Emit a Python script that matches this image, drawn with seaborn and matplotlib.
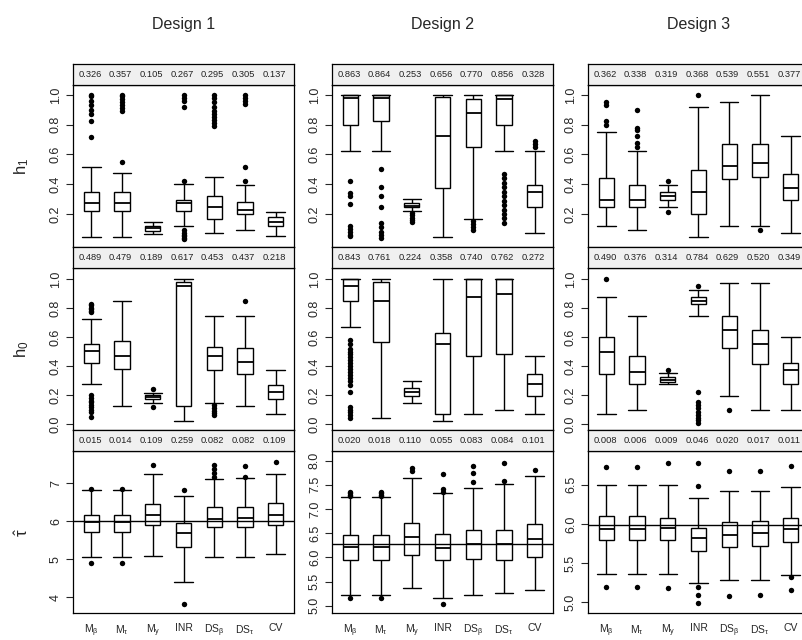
import numpy as np
import pandas as pd
import matplotlib
matplotlib.use('Agg')
import matplotlib.pyplot as plt
import seaborn as sns

# ===================== data =====================
methods = ['Mb', 'Mt', 'My', 'INR', 'DSb', 'DSt', 'CV']
method_labels = ['M$_\\beta$', 'M$_\\tau$', 'M$_y$', 'INR', 'DS$_\\beta$', 'DS$_\\tau$', 'CV']
designs = ['Design 1', 'Design 2', 'Design 3']
row_labels = ['h$_1$', 'h$_0$', '$\\hat{\\tau}$']

# five-number summaries per method: [lower whisker, Q1, median, Q3, upper whisker]
h1_d1_box = [[0.043, 0.22, 0.272, 0.346, 0.518], [0.043, 0.22, 0.272, 0.346, 0.473],
             [0.066, 0.088, 0.104, 0.12, 0.144], [0.12, 0.22, 0.272, 0.294, 0.40],
             [0.07, 0.169, 0.249, 0.321, 0.446], [0.092, 0.198, 0.227, 0.281, 0.395],
             [0.05, 0.12, 0.145, 0.18, 0.21]]
h1_d1_out = [[0.72, 0.825, 0.87, 0.90, 0.93, 0.96, 0.99, 1.0],
             [0.547, 0.89, 0.91, 0.93, 0.95, 0.97, 0.99, 1.0],
             [],
             [0.424, 0.03, 0.04, 0.05, 0.06, 0.075, 0.09, 0.92, 0.96, 0.98, 1.0],
             [0.79, 0.81, 0.83, 0.85, 0.87, 0.89, 0.92, 0.95, 0.98, 1.0],
             [0.424, 0.518, 0.94, 0.96, 0.98, 1.0],
             []]
h1_d2_box = [[0.624, 0.80, 0.978, 1.0, 1.0], [0.624, 0.825, 0.978, 1.0, 1.0],
             [0.22, 0.245, 0.256, 0.272, 0.30], [0.043, 0.373, 0.725, 0.985, 1.0],
             [0.167, 0.648, 0.877, 0.973, 1.0], [0.624, 0.80, 0.973, 1.0, 1.0],
             [0.07, 0.245, 0.346, 0.395, 0.624]]
h1_d2_out = [[0.42, 0.34, 0.32, 0.27, 0.12, 0.10, 0.08, 0.06, 0.05],
             [0.50, 0.38, 0.32, 0.25, 0.14, 0.11, 0.08, 0.06, 0.04],
             [0.205, 0.19, 0.175, 0.16, 0.145],
             [],
             [0.15, 0.13, 0.11, 0.09],
             [0.47, 0.44, 0.41, 0.38, 0.35, 0.32, 0.29, 0.26, 0.23, 0.20, 0.17, 0.14],
             [0.69, 0.67, 0.65]]
h1_d3_box = [[0.12, 0.245, 0.294, 0.444, 0.75], [0.093, 0.245, 0.294, 0.395, 0.624],
             [0.245, 0.294, 0.324, 0.346, 0.395], [0.043, 0.198, 0.346, 0.496, 0.922],
             [0.12, 0.433, 0.523, 0.671, 0.95], [0.12, 0.447, 0.545, 0.671, 1.0],
             [0.07, 0.294, 0.373, 0.47, 0.722]]
h1_d3_out = [[0.955, 0.93, 0.825, 0.80], [0.90, 0.776, 0.765, 0.725, 0.675, 0.652],
             [0.422, 0.216], [1.0], [], [0.093], []]

h0_d1_box = [[0.273, 0.423, 0.503, 0.549, 0.722], [0.124, 0.377, 0.471, 0.575, 0.85],
             [0.147, 0.17, 0.184, 0.20, 0.216], [0.02, 0.124, 0.954, 0.977, 1.0],
             [0.147, 0.372, 0.471, 0.533, 0.747], [0.124, 0.344, 0.425, 0.526, 0.747],
             [0.068, 0.17, 0.223, 0.27, 0.372]]
h0_d1_out = [[0.83, 0.82, 0.80, 0.79, 0.78, 0.77, 0.20, 0.18, 0.16, 0.15, 0.13, 0.12, 0.10, 0.085, 0.05],
             [], [0.245, 0.12], [], [0.13, 0.11, 0.09, 0.075, 0.06], [0.85], []]
h0_d2_box = [[0.67, 0.85, 0.954, 1.0, 1.0], [0.045, 0.563, 0.85, 0.977, 1.0],
             [0.147, 0.195, 0.223, 0.25, 0.296], [0.02, 0.068, 0.549, 0.625, 1.0],
             [0.068, 0.471, 0.873, 1.0, 1.0], [0.096, 0.483, 0.90, 1.0, 1.0],
             [0.068, 0.195, 0.273, 0.347, 0.471]]
h0_d2_out = [[0.58, 0.55, 0.52, 0.50, 0.48, 0.46, 0.44, 0.42, 0.40, 0.38, 0.36, 0.34,
              0.32, 0.30, 0.27, 0.22, 0.12, 0.10, 0.08, 0.06, 0.04],
             [], [], [], [], [], []]
h0_d3_box = [[0.068, 0.347, 0.499, 0.598, 0.873], [0.096, 0.273, 0.36, 0.471, 0.747],
             [0.273, 0.292, 0.303, 0.322, 0.349], [0.747, 0.827, 0.85, 0.873, 0.924],
             [0.195, 0.522, 0.648, 0.747, 0.975], [0.096, 0.411, 0.549, 0.648, 0.975],
             [0.096, 0.273, 0.372, 0.423, 0.598]]
h0_d3_out = [[1.0], [], [0.372], [0.952, 0.22, 0.15, 0.13, 0.11, 0.08, 0.06, 0.04, 0.03, 0.01],
             [0.096], [], []]

tau_d1_box = [[5.07, 5.722, 5.983, 6.157, 6.81], [5.07, 5.722, 5.983, 6.157, 6.81],
              [5.087, 5.896, 6.157, 6.452, 7.243], [4.41, 5.32, 5.678, 5.957, 6.67],
              [5.07, 5.843, 6.06, 6.365, 7.104], [5.07, 5.85, 6.07, 6.365, 7.12],
              [5.15, 5.91, 6.17, 6.48, 7.24]]
tau_d1_out = [[6.84, 4.91], [6.84, 4.91], [7.478], [6.81, 3.826],
              [7.478, 7.365, 7.26, 7.17], [7.45, 7.17], [7.55]]
tau_d2_box = [[5.22, 5.945, 6.22, 6.459, 7.24], [5.22, 5.945, 6.22, 6.459, 7.24],
              [5.36, 6.05, 6.425, 6.71, 7.65], [5.16, 5.945, 6.2, 6.486, 7.33],
              [5.23, 5.97, 6.27, 6.575, 7.445], [5.26, 5.945, 6.27, 6.575, 7.52],
              [5.32, 6.01, 6.38, 6.70, 7.68]]
tau_d2_out = [[7.36, 7.33, 7.30, 7.27, 5.15], [7.36, 7.33, 7.30, 7.27, 5.15], [7.84, 7.79],
              [7.72, 7.41, 7.36, 5.03], [7.88, 7.74, 7.55], [7.96, 7.57], [7.81]]
tau_d3_box = [[5.367, 5.79, 5.94, 6.10, 6.5], [5.367, 5.79, 5.94, 6.10, 6.5],
              [5.367, 5.79, 5.95, 6.07, 6.5], [5.245, 5.66, 5.815, 5.95, 6.33],
              [5.28, 5.71, 5.86, 6.02, 6.415], [5.28, 5.72, 5.88, 6.04, 6.42],
              [5.35, 5.77, 5.94, 6.07, 6.47]]
tau_d3_out = [[6.72, 5.2], [6.72, 5.2], [6.775, 5.18], [6.78, 6.48, 5.2, 5.097, 4.99],
              [6.67, 5.08], [6.67, 5.097], [6.74, 5.32, 5.156]]
tau_true = [6.0, 6.28, 5.985]

# numbers in the grey strips above each panel
h1_strip = [['0.326', '0.357', '0.105', '0.267', '0.295', '0.305', '0.137'],
            ['0.863', '0.864', '0.253', '0.656', '0.770', '0.856', '0.328'],
            ['0.362', '0.338', '0.319', '0.368', '0.539', '0.551', '0.377']]
h0_strip = [['0.489', '0.479', '0.189', '0.617', '0.453', '0.437', '0.218'],
            ['0.843', '0.761', '0.224', '0.358', '0.740', '0.762', '0.272'],
            ['0.490', '0.376', '0.314', '0.784', '0.629', '0.520', '0.349']]
tau_strip = [['0.015', '0.014', '0.109', '0.259', '0.082', '0.082', '0.109'],
             ['0.020', '0.018', '0.110', '0.055', '0.083', '0.084', '0.101'],
             ['0.008', '0.006', '0.009', '0.046', '0.020', '0.017', '0.011']]

# axis settings per panel
h1_ticks = [0.2, 0.4, 0.6, 0.8, 1.0]
h0_ticks = [0.0, 0.2, 0.4, 0.6, 0.8, 1.0]
tau_ticks = [[4, 5, 6, 7], [5.0, 5.5, 6.0, 6.5, 7.0, 7.5, 8.0], [5.0, 5.5, 6.0, 6.5]]


def long_frame(groups):
    rows = [(m, v) for m, vals in zip(methods, groups) for v in vals]
    return pd.DataFrame(rows, columns=['method', 'value'])


# ===================== style =====================
sns.set_style('ticks')
plt.rcParams['font.family'] = ['Liberation Sans', 'DejaVu Sans']
plt.rcParams['mathtext.fontset'] = 'custom'
plt.rcParams['mathtext.rm'] = 'Liberation Sans'
plt.rcParams['mathtext.it'] = 'Liberation Sans:italic'
plt.rcParams['mathtext.default'] = 'regular'
plt.rcParams['axes.linewidth'] = 0.8

W, H = 802, 640
fig = plt.figure(figsize=(W / 100, H / 100), dpi=100)


def rect(left, top, w, h):
    return [left / W, 1 - (top + h) / H, w / W, h / H]


col_left = [73, 332, 588]
panel_w = 221
panel_top = [85, 268, 451]
panel_h = 162
strip_h = 21

boxes = [[h1_d1_box, h1_d2_box, h1_d3_box],
         [h0_d1_box, h0_d2_box, h0_d3_box],
         [tau_d1_box, tau_d2_box, tau_d3_box]]
outs = [[h1_d1_out, h1_d2_out, h1_d3_out],
        [h0_d1_out, h0_d2_out, h0_d3_out],
        [tau_d1_out, tau_d2_out, tau_d3_out]]
strips = [h1_strip, h0_strip, tau_strip]
ylims = [[(-0.022, 1.067)] * 3,
         [(-0.041, 1.076)] * 3,
         [(3.59, 7.84), (4.85, 8.2), (4.864, 6.93)]]
ticks = [[h1_ticks] * 3, [h0_ticks] * 3, tau_ticks]
fmts = [['{:.1f}'] * 3, ['{:.1f}'] * 3, ['{:.0f}', '{:.1f}', '{:.1f}']]

for r in range(3):
    for c in range(3):
        ax = fig.add_axes(rect(col_left[c], panel_top[r], panel_w, panel_h))
        sns.boxplot(data=long_frame(boxes[r][c]), x='method', y='value', order=methods,
                    whis=(0, 100), width=0.5, color='white', linecolor='black',
                    linewidth=1.0, fliersize=0, capwidths=0.6,
                    medianprops={'linewidth': 1.3}, ax=ax)
        sns.stripplot(data=long_frame(outs[r][c]), x='method', y='value', order=methods,
                      jitter=False, color='black', size=3.9, linewidth=0, ax=ax, zorder=4)
        if r == 2:
            ax.axhline(tau_true[c], color='black', linewidth=1.0, zorder=5)
        ax.set_xlim(-0.6, 6.6)
        ax.set_ylim(*ylims[r][c])
        ax.set_yticks(ticks[r][c])
        ax.set_yticklabels([fmts[r][c].format(t) for t in ticks[r][c]])
        ax.tick_params(axis='y', direction='out', length=5, width=0.8, labelsize=9,
                       pad=3, labelrotation=90)
        for lab in ax.get_yticklabels():
            lab.set_va('center')
        ax.set_xlabel('')
        ax.set_ylabel('')
        ax.set_xticks(range(7))
        if r == 2:
            ax.set_xticklabels(method_labels, fontsize=7.5)
            ax.tick_params(axis='x', length=0, pad=7)
        else:
            ax.tick_params(axis='x', length=0, labelbottom=False)
        for sp in ax.spines.values():
            sp.set_visible(True)
            sp.set_color('black')
            sp.set_linewidth(0.9)

        # grey strip with the summary numbers
        sax = fig.add_axes(rect(col_left[c], panel_top[r] - strip_h, panel_w, strip_h))
        sax.set_facecolor('#f0f0f0')
        sax.set_xlim(-0.6, 6.6)
        sax.set_ylim(0, 1)
        sax.set_xticks([])
        sax.set_yticks([])
        for sp in sax.spines.values():
            sp.set_color('black')
            sp.set_linewidth(0.9)
        for i, s in enumerate(strips[r][c]):
            sax.text(i - 0.05, 0.5, s, ha='center', va='center', fontsize=6.7, color='#222222')

for c in range(3):
    fig.text((col_left[c] + panel_w / 2) / W, 1 - 25 / H, designs[c],
             ha='center', va='center', fontsize=11.5)
for r in range(3):
    fig.text(22 / W, 1 - (panel_top[r] + panel_h / 2) / H, row_labels[r],
             ha='center', va='center', rotation=90, fontsize=12)

fig.savefig('out.png', dpi=100)
